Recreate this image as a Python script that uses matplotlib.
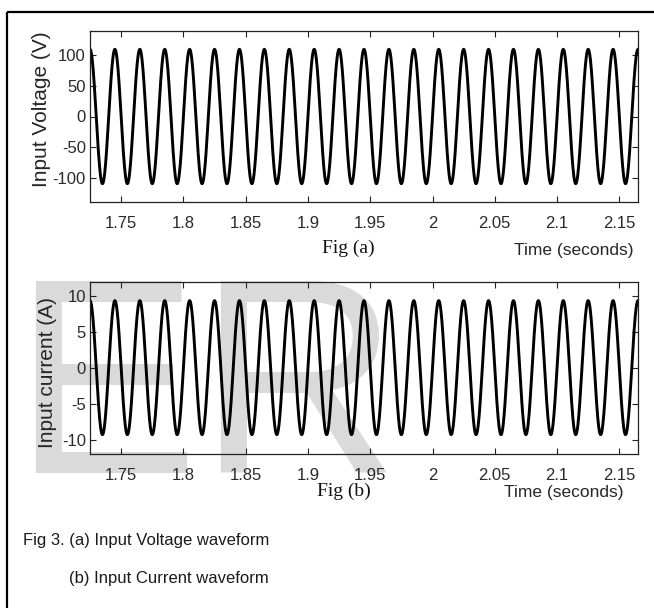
import numpy as np
import matplotlib
matplotlib.use("Agg")
import matplotlib.pyplot as plt
from matplotlib import font_manager
from matplotlib.lines import Line2D

# ---------------- data ----------------
# times of successive extrema (peak, trough, peak, ...) in seconds
extrema_times = [1.725, 1.735, 1.745, 1.755, 1.765, 1.775, 1.785, 1.795, 1.805, 1.815,
                 1.825, 1.835, 1.845, 1.855, 1.865, 1.875, 1.885, 1.895, 1.905, 1.915,
                 1.925, 1.935, 1.945, 1.955, 1.965, 1.975, 1.985, 1.995, 2.005, 2.015,
                 2.025, 2.035, 2.045, 2.055, 2.065, 2.075, 2.085, 2.095, 2.105, 2.115,
                 2.125, 2.135, 2.145, 2.155, 2.165]
voltage_extrema = [110, -110] * 22 + [110]      # V
current_extrema = [9.4, -9.3] * 22 + [9.4]      # A

x_ticks = [1.75, 1.8, 1.85, 1.9, 1.95, 2.0, 2.05, 2.1, 2.15]
x_tick_labels = ["1.75", "1.8", "1.85", "1.9", "1.95", "2", "2.05", "2.1", "2.15"]
v_ticks = [-100, -50, 0, 50, 100]
i_ticks = [-10, -5, 0, 5, 10]


def smooth_through_extrema(times, values, n=40):
    """Half-cosine segments between successive extrema."""
    ts, vs = [], []
    for k in range(len(times) - 1):
        s = np.linspace(0, 1, n, endpoint=False)
        ts.append(times[k] + (times[k + 1] - times[k]) * s)
        vs.append(values[k] + (values[k + 1] - values[k]) * (1 - np.cos(np.pi * s)) / 2)
    ts.append([times[-1]])
    vs.append([values[-1]])
    return np.concatenate(ts), np.concatenate(vs)


def have_font(name):
    try:
        font_manager.findfont(font_manager.FontProperties(family=name),
                              fallback_to_default=False)
        return True
    except Exception:
        return False


sans = "Liberation Sans"
serif = "Liberation Serif"
if have_font("Liberation Sans Narrow"):
    tick_font, tick_size = "Liberation Sans Narrow", 13.2
else:
    tick_font, tick_size = "Liberation Sans", 12

W, H = 654, 608
fig = plt.figure(figsize=(W / 100, H / 100), dpi=100)
fig.patch.set_facecolor("white")


def fx(px):
    return px / W


def fy(py):
    return 1 - py / H


# watermark letters behind everything
fig.text(fx(12), fy(473), "ER", fontfamily=sans, fontsize=200.9, color="#dadada",
         ha="left", va="baseline", zorder=-5)

# outer frame (left and top rules)
fig.add_artist(Line2D([fx(7), fx(7)], [fy(12), 0], transform=fig.transFigure,
                      color="black", lw=1.6, solid_capstyle="butt"))
fig.add_artist(Line2D([fx(7), 1], [fy(12), fy(12)], transform=fig.transFigure,
                      color="black", lw=1.6, solid_capstyle="butt"))

ax_l, ax_r = 90, 638
ax1 = fig.add_axes([fx(ax_l), fy(202), fx(ax_r - ax_l), (202 - 31) / H])
ax2 = fig.add_axes([fx(ax_l), fy(454), fx(ax_r - ax_l), (454 - 282) / H])

tv, vv = smooth_through_extrema(extrema_times, voltage_extrema)
ti, vi = smooth_through_extrema(extrema_times, current_extrema)

ax1.plot(tv, vv, color="black", lw=2.1)
ax2.plot(ti, vi, color="black", lw=2.1)

for ax, yt, ylim in ((ax1, v_ticks, (-140, 140)), (ax2, i_ticks, (-12, 12))):
    ax.set_facecolor("none")
    ax.set_xlim(1.725, 2.165)
    ax.set_ylim(*ylim)
    ax.set_xticks(x_ticks)
    ax.set_xticklabels(x_tick_labels)
    ax.set_yticks(yt)
    ax.set_yticklabels([str(v) for v in yt])
    ax.tick_params(direction="in", top=True, right=True, length=4, width=0.8,
                   color="#222222", labelcolor="#2a2a2a")
    ax.tick_params(axis="x", pad=10)
    ax.tick_params(axis="y", pad=3)
    for lab in ax.get_xticklabels() + ax.get_yticklabels():
        lab.set_fontfamily(tick_font)
        lab.set_fontsize(tick_size)
    for sp in ax.spines.values():
        sp.set_color("#222222")
        sp.set_linewidth(0.9)

ax1.set_ylabel("Input Voltage (V)", fontfamily=sans, fontsize=15, color="#262626")
ax1.yaxis.set_label_coords(-0.0712, 0.544)
ax2.set_ylabel("Input current (A)", fontfamily=sans, fontsize=15, color="#262626")
ax2.yaxis.set_label_coords(-0.0602, 0.474)

ax1.set_xlabel("Time (seconds)", fontfamily=sans, fontsize=12.5, color="#262626",
               ha="right", va="center")
ax1.xaxis.set_label_coords((634 - ax_l) / (ax_r - ax_l), (202 - 251) / 171)
ax2.set_xlabel("Time (seconds)", fontfamily=sans, fontsize=12.5, color="#262626",
               ha="right", va="center")
ax2.xaxis.set_label_coords((623 - ax_l) / (ax_r - ax_l), (454 - 492) / 172)

fig.text(fx(322), fy(248), "Fig (a)", fontfamily=serif, fontsize=14, color="#111111",
         ha="left", va="center")
fig.text(fx(317), fy(491), "Fig (b)", fontfamily=serif, fontsize=14, color="#111111",
         ha="left", va="center")

fig.text(fx(23), fy(541), "Fig 3. (a) Input Voltage waveform", fontfamily=sans,
         fontsize=12, color="#1a1a1a", ha="left", va="center")
fig.text(fx(69), fy(578), "(b) Input Current waveform", fontfamily=sans,
         fontsize=12, color="#1a1a1a", ha="left", va="center")

fig.savefig("out.png", dpi=100, facecolor="white")
